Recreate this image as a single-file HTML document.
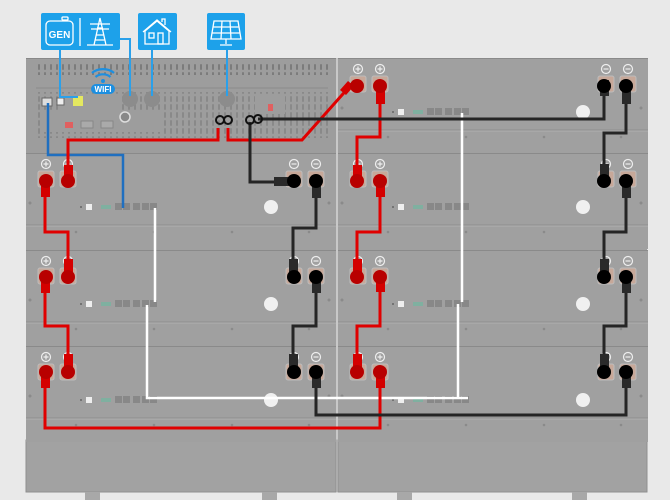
<!DOCTYPE html>
<html><head><meta charset="utf-8"><style>
html,body{margin:0;padding:0;background:#e9e9e9;width:670px;height:500px;overflow:hidden}
svg{display:block}
text{font-family:"Liberation Sans",sans-serif}
</style></head><body>
<svg width="670" height="500" viewBox="0 0 670 500" xmlns="http://www.w3.org/2000/svg">
<defs>
<pattern id="vent" x="0" y="0" width="6" height="8" patternUnits="userSpaceOnUse">
<rect x="2" y="0" width="2" height="6" rx="1" fill="#7c7c7c"/>
</pattern>
<g id="pad">
<rect x="-8" y="-8" width="16" height="16" rx="2" fill="#c7a899" stroke="#bdbdbd" stroke-width="1"/>
</g>
<g id="mod">
<rect x="0" y="0" width="310" height="96" fill="#a0a0a0"/>
<line x1="0" y1="0.5" x2="310" y2="0.5" stroke="#8a8a8a"/>
<line x1="0" y1="72" x2="310" y2="72" stroke="#8e8e8e"/>
<line x1="0" y1="73" x2="310" y2="73" stroke="#b0b0b0"/>
<circle cx="4" cy="50" r="1.5" fill="#8a8a8a"/><circle cx="303" cy="50" r="1.5" fill="#8a8a8a"/>
<circle cx="50" cy="79" r="1.3" fill="#8a8a8a"/><circle cx="128" cy="79" r="1.3" fill="#8a8a8a"/><circle cx="206" cy="79" r="1.3" fill="#8a8a8a"/><circle cx="283" cy="79" r="1.3" fill="#8a8a8a"/>
<use href="#pad" x="20" y="26"/><use href="#pad" x="42" y="26"/>
<use href="#pad" x="268" y="26"/><use href="#pad" x="290" y="26"/>
<circle cx="20" cy="11" r="4.5" fill="none" stroke="#eee" stroke-width="1.2"/><path d="M17.5 11h5M20 8.5v5" stroke="#eee" stroke-width="1.2"/>
<circle cx="42" cy="11" r="4.5" fill="none" stroke="#eee" stroke-width="1.2"/><path d="M39.5 11h5M42 8.5v5" stroke="#eee" stroke-width="1.2"/>
<circle cx="268" cy="11" r="4.5" fill="none" stroke="#eee" stroke-width="1.2"/><path d="M265.5 11h5" stroke="#eee" stroke-width="1.2"/>
<circle cx="290" cy="11" r="4.5" fill="none" stroke="#eee" stroke-width="1.2"/><path d="M287.5 11h5" stroke="#eee" stroke-width="1.2"/>
<circle cx="55" cy="54" r="1" fill="#666"/>
<rect x="60" y="51" width="6" height="6" fill="#eee"/>
<rect x="75" y="52" width="10" height="4" fill="#7fb0a0"/>
<rect x="89" y="50" width="7" height="7" fill="#888"/><rect x="97" y="50" width="7" height="7" fill="#888"/>
<rect x="107" y="50" width="7" height="7" fill="#888"/>
<rect x="116" y="50" width="7" height="7" fill="#888"/><rect x="124" y="50" width="7" height="7" fill="#888"/>
<circle cx="245" cy="54" r="7" fill="#f0f0f0"/>
</g>
</defs>

<rect x="26" y="58" width="310" height="434" fill="#a0a0a0"/>
<rect x="338" y="58" width="309" height="434" fill="#a0a0a0"/>
<rect x="336" y="58" width="2" height="434" fill="#c8c8c8"/>
<rect x="26" y="440" width="310" height="52" fill="#a2a2a2" stroke="#909090"/>
<rect x="338" y="440" width="309" height="52" fill="#a2a2a2" stroke="#909090"/>
<rect x="85" y="492" width="15" height="8" fill="#a8a8a8"/><rect x="262" y="492" width="15" height="8" fill="#a8a8a8"/>
<rect x="397" y="492" width="15" height="8" fill="#a8a8a8"/><rect x="572" y="492" width="15" height="8" fill="#a8a8a8"/>

<use href="#mod" x="26" y="153"/><use href="#mod" x="26" y="250"/><use href="#mod" x="26" y="346"/>
<use href="#mod" x="338" y="58"/><use href="#mod" x="338" y="153"/><use href="#mod" x="338" y="250"/><use href="#mod" x="338" y="346"/>

<rect x="26" y="58" width="310" height="95" fill="#9d9d9d"/>
<line x1="26" y1="58.5" x2="336" y2="58.5" stroke="#888"/>
<rect x="36" y="63" width="292" height="12" fill="url(#vent)"/>
<line x1="36" y1="88" x2="328" y2="88" stroke="#8a8a8a"/>
<rect x="36" y="92" width="292" height="46" fill="url(#vent)" opacity="0.6"/>
<rect x="60" y="94" width="60" height="16" fill="#9d9d9d"/>
<rect x="40" y="112" width="120" height="20" fill="#9d9d9d"/>
<rect x="255" y="94" width="30" height="20" fill="#9d9d9d"/>
<rect x="42" y="98" width="10" height="8" fill="#ddd" stroke="#666"/>
<rect x="57" y="98" width="7" height="7" fill="#eee" stroke="#666"/>
<rect x="73" y="96" width="10" height="10" fill="#e4e860"/>
<rect x="65" y="122" width="8" height="6" fill="#e06060"/>
<rect x="81" y="121" width="12" height="7" fill="#aaa" stroke="#888"/>
<rect x="101" y="121" width="12" height="7" fill="#aaa" stroke="#888"/>
<circle cx="125" cy="117" r="5" fill="#888" stroke="#ddd" stroke-width="1.5"/>
<rect x="268" y="104" width="5" height="7" fill="#e06060"/>
<circle cx="130" cy="99" r="8" fill="#8c8c8c"/><circle cx="152" cy="99" r="8" fill="#8c8c8c"/><circle cx="227" cy="99" r="8" fill="#8c8c8c"/>
<g fill="none" stroke="#1d8fe0" stroke-width="2.2">
<path d="M92 73a15 12 0 0 1 22 0"/><path d="M95.5 77a10 8 0 0 1 15 0"/>
</g>
<circle cx="103" cy="81" r="2" fill="#1d8fe0"/>
<rect x="91" y="84" width="24" height="10" rx="5" fill="#1d8fe0"/>
<text x="103" y="92" font-size="8" font-weight="bold" fill="#fff" text-anchor="middle">WIFI</text>

<g fill="#1da1ea">
<rect x="41" y="13" width="79" height="37" rx="2"/>
<rect x="138" y="13" width="39" height="37" rx="2"/>
<rect x="207" y="13" width="38" height="37" rx="2"/>
</g>
<g fill="none" stroke="#fff" stroke-width="1.3">
<rect x="46" y="21" width="27" height="24" rx="4"/><rect x="62" y="17" width="6" height="3" rx="1"/>
<line x1="80" y1="18" x2="80" y2="46"/>
<path d="M87 45h26M94 45l6-27 6 27M96 35h8M95 40h10M97 28h6M90 24h20M91 29h18"/>
<path d="M145 44V31l12-10 12 10v13zM143 32l14-12 14 12M162 22v-3h3v6"/>
<rect x="149" y="33" width="5" height="5"/><rect x="158" y="33" width="5" height="11"/>
<path d="M214 21h24l3 18h-30zM213 27h26M212 33h28M222 21l-1 18M230 21l1 18M226 39v5M220 45h12"/>
</g>
<text x="59.5" y="38" font-size="10" font-weight="bold" fill="#fff" text-anchor="middle">GEN</text>

<g fill="none" stroke="#2aa0ea" stroke-width="2">
<path d="M60 50V97H78"/><path d="M120 39H130V96"/><path d="M152 50V96"/><path d="M227 50V96"/>
</g>
<path d="M48 103V155H123V208" fill="none" stroke="#1f6fc0" stroke-width="2.5"/>

<g fill="none" stroke="#fff" stroke-width="2.5">
<path d="M155 208V302"/><path d="M147 305V398H468"/><path d="M462 113V302"/><path d="M458 304V398"/>
</g>

<g fill="none" stroke="#e00000" stroke-width="3">
<path d="M218 128V140H68V178"/>
<path d="M228 128V140H302L350 86"/>
<path d="M380 88V137H357V180"/>
<path d="M380 181V232H357V275"/>
<path d="M380 276V326H357V370"/>
<path d="M380 372V428H45V372"/>
<path d="M45 181V232H68V275"/>
<path d="M45 277V326H68V370"/>
</g>
<g fill="none" stroke="#252525" stroke-width="3">
<path d="M250 122V182H290"/>
<path d="M258 119H604V90"/>
<path d="M626 88V133H604V180"/>
<path d="M626 182V232H604V275"/>
<path d="M626 277V326H604V370"/>
<path d="M316 182V228H293V275"/>
<path d="M316 277V326H293V370"/>
<path d="M316 372V415H626V372"/>
</g>
<g fill="none" stroke="#111" stroke-width="2">
<circle cx="220" cy="120" r="4"/><circle cx="228" cy="120" r="4"/><circle cx="250" cy="120" r="4"/><circle cx="258" cy="119" r="4"/>
</g>
<g fill="#d40000">
<rect x="64" y="165" width="9" height="16"/><rect x="41" y="181" width="9" height="16"/>
<rect x="64" y="259" width="9" height="16"/><rect x="41" y="277" width="9" height="16"/>
<rect x="64" y="354" width="9" height="16"/><rect x="41" y="372" width="9" height="16"/>
<rect x="376" y="88" width="9" height="16"/><rect x="353" y="165" width="9" height="16"/>
<rect x="376" y="181" width="9" height="16"/><rect x="353" y="259" width="9" height="16"/>
<rect x="376" y="276" width="9" height="16"/><rect x="353" y="354" width="9" height="16"/>
<rect x="376" y="372" width="9" height="16"/>
<path d="M340 90l8-9 6 5-8 9z"/>
</g>
<g fill="#2a2a2a">
<rect x="274" y="177" width="16" height="9"/><rect x="622" y="88" width="9" height="16"/><rect x="600" y="80" width="9" height="16"/>
<rect x="312" y="182" width="9" height="16"/><rect x="289" y="259" width="9" height="16"/>
<rect x="312" y="277" width="9" height="16"/><rect x="289" y="354" width="9" height="16"/>
<rect x="312" y="372" width="9" height="16"/>
<rect x="622" y="182" width="9" height="16"/><rect x="600" y="164" width="9" height="16"/>
<rect x="622" y="277" width="9" height="16"/><rect x="600" y="259" width="9" height="16"/>
<rect x="622" y="372" width="9" height="16"/><rect x="600" y="354" width="9" height="16"/>
</g>
<g fill="#b80000">
<circle cx="46" cy="181" r="7"/><circle cx="68" cy="181" r="7"/>
<circle cx="46" cy="277" r="7"/><circle cx="68" cy="277" r="7"/>
<circle cx="46" cy="372" r="7"/><circle cx="68" cy="372" r="7"/>
<circle cx="357" cy="86" r="7"/><circle cx="380" cy="86" r="7"/>
<circle cx="357" cy="181" r="7"/><circle cx="380" cy="181" r="7"/>
<circle cx="357" cy="277" r="7"/><circle cx="380" cy="277" r="7"/>
<circle cx="357" cy="372" r="7"/><circle cx="380" cy="372" r="7"/>
</g>
<g fill="#000">
<circle cx="294" cy="181" r="7"/><circle cx="316" cy="181" r="7"/>
<circle cx="294" cy="277" r="7"/><circle cx="316" cy="277" r="7"/>
<circle cx="294" cy="372" r="7"/><circle cx="316" cy="372" r="7"/>
<circle cx="604" cy="86" r="7"/><circle cx="626" cy="86" r="7"/>
<circle cx="604" cy="181" r="7"/><circle cx="626" cy="181" r="7"/>
<circle cx="604" cy="277" r="7"/><circle cx="626" cy="277" r="7"/>
<circle cx="604" cy="372" r="7"/><circle cx="626" cy="372" r="7"/>
</g>
</svg>
</body></html>
